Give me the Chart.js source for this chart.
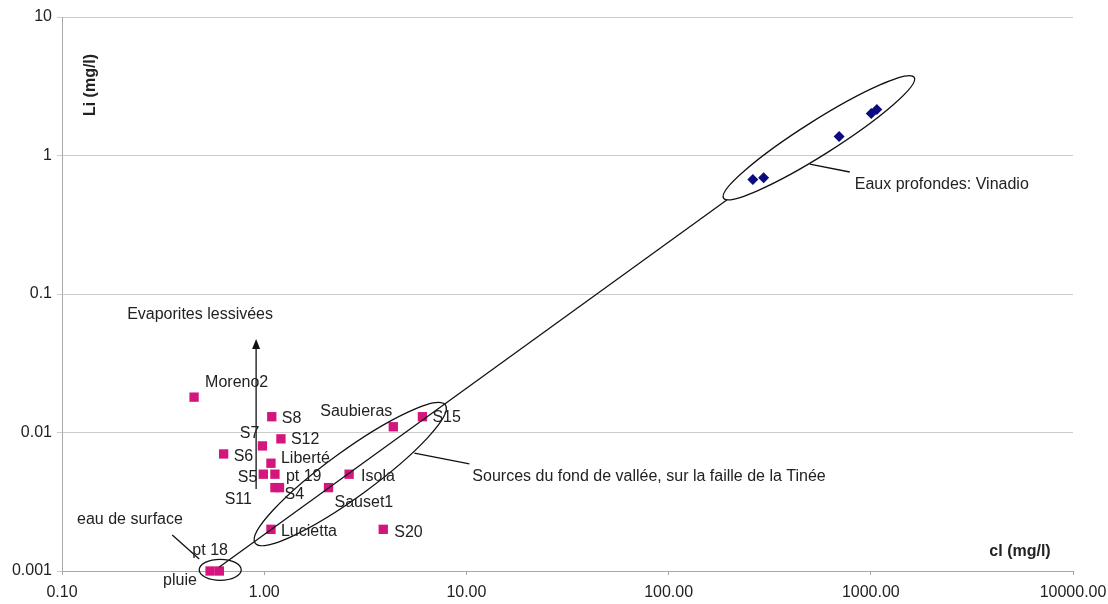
<!DOCTYPE html>
<html>
<head>
<meta charset="utf-8">
<script src="https://cdn.jsdelivr.net/npm/chart.js@4/dist/chart.umd.min.js"></script>
<style>
  html, body { margin: 0; padding: 0; background: #fff; }
  #wrap { width: 1108px; height: 604px; }
</style>
</head>
<body>
<div id="wrap"><canvas id="liChart" width="1108" height="604"></canvas></div>
<script>
// Sources (points roses)
const sampleNames = ['Moreno2', 'S8', 'S7', 'S12', 'S6', 'Liberté', 'S5', 'pt 19', 'S11', 'S4',
                     'Lucietta', 'pt 18', 'pluie', 'Sauset1', 'Isola', 'Saubieras', 'S15', 'S20'];
const clValues = [0.45, 1.09, 0.98, 1.21, 0.63, 1.08, 0.99, 1.13, 1.13, 1.19,
                  1.08, 0.60, 0.54, 2.08, 2.63, 4.35, 6.06, 3.88];
const liValues = [0.018, 0.013, 0.008, 0.009, 0.007, 0.006, 0.005, 0.005, 0.004, 0.004,
                  0.002, 0.001, 0.001, 0.004, 0.005, 0.011, 0.013, 0.002];

// Eaux profondes: Vinadio (losanges bleus)
const vinadioCl = [261, 295, 697, 1005, 1071];
const vinadioLi = [0.67, 0.69, 1.37, 2.01, 2.15];

// Graduations
const xTicks = [0.1, 1, 10, 100, 1000, 10000];
const xTickLabels = ['0.10', '1.00', '10.00', '100.00', '1000.00', '10000.00'];
const yTicks = [0.001, 0.01, 0.1, 1, 10];
const yTickLabels = ['0.001', '0.01', '0.1', '1', '10'];

// Droite de mélange (valeurs cl, Li)
const mixLineCl = [0.6, 194];
const mixLineLi = [0.00107, 0.477];

// Décalage des étiquettes (px) : [dx, dy, alignement]
const labelOffsets = [
  [11, -15, 'left'], [10, 2, 'left'], [-3, -12, 'right'], [10, 1, 'left'], [10, 3, 'left'],
  [10, -5, 'left'], [-6, 3, 'right'], [11, 2, 'left'], [-23, 12, 'right'], [5, 7, 'left'],
  [10, 2, 'left'], [-27, -20, 'left'], [-47, 10, 'left'], [6, 15, 'left'], [12, 2, 'left'],
  [-1, -15, 'right'], [10, 1, 'left'], [11, 3, 'left']
];

// Ellipses : extrémités du grand axe (cl, Li) + demi petit axe en px
const ellipses = [
  { from: [0.477, 0.00102], to: [0.770, 0.00102], half: 10.5 },
  { from: [0.902, 0.00159], to: [7.87, 0.0158], half: 23 },
  { from: [187, 0.493], to: [1640, 3.66], half: 17 }
];

// Traits de rappel
const callouts = [
  { from: [499, 0.868], to: [787, 0.760] },
  { from: [5.53, 0.00711], to: [10.35, 0.00593] },
  { from: [0.351, 0.00182], to: [0.477, 0.00122] }
];

// Flèche "Evaporites lessivées"
const arrowCl = 0.912;
const arrowLi = [0.00391, 0.0473];

// Textes
const notes = [
  { text: 'Evaporites lessivées', at: [0.210, 0.0705] },
  { text: 'eau de surface', at: [0.1187, 0.00237] },
  { text: 'Eaux profondes: Vinadio', at: [833, 0.612] },
  { text: 'Sources du fond de vallée, sur la faille de la Tinée', at: [10.7, 0.00477] }
];

const FONT = "'Liberation Sans', Arial, sans-serif";
const TEXT_COLOR = '#222';

// Plugin pour ellipses, flèche, textes et étiquettes
const annotatePlugin = {
  id: 'annotate',
  afterDatasetsDraw(chart) {
    const ctx = chart.ctx;
    const xs = chart.scales.x, ys = chart.scales.y;
    const P = (v) => [xs.getPixelForValue(v[0]), ys.getPixelForValue(v[1])];
    ctx.save();
    ctx.strokeStyle = '#111';
    ctx.lineWidth = 1.3;

    ellipses.forEach(e => {
      const a = P(e.from), b = P(e.to);
      const cx = (a[0] + b[0]) / 2, cy = (a[1] + b[1]) / 2;
      const len = Math.hypot(b[0] - a[0], b[1] - a[1]) / 2;
      const ang = Math.atan2(b[1] - a[1], b[0] - a[0]);
      ctx.beginPath();
      ctx.ellipse(cx, cy, len, e.half, ang, 0, Math.PI * 2);
      ctx.stroke();
    });

    callouts.forEach(c => {
      const a = P(c.from), b = P(c.to);
      ctx.beginPath();
      ctx.moveTo(a[0], a[1]);
      ctx.lineTo(b[0], b[1]);
      ctx.stroke();
    });

    // flèche
    const ab = P([arrowCl, arrowLi[0]]), at = P([arrowCl, arrowLi[1]]);
    ctx.beginPath();
    ctx.moveTo(ab[0], ab[1]);
    ctx.lineTo(at[0], at[1] + 8);
    ctx.stroke();
    ctx.fillStyle = '#111';
    ctx.beginPath();
    ctx.moveTo(at[0], at[1]);
    ctx.lineTo(at[0] - 4, at[1] + 10);
    ctx.lineTo(at[0] + 4, at[1] + 10);
    ctx.closePath();
    ctx.fill();

    // textes
    ctx.fillStyle = TEXT_COLOR;
    ctx.font = '16px ' + FONT;
    ctx.textBaseline = 'middle';
    ctx.textAlign = 'left';
    notes.forEach(n => {
      const p = P(n.at);
      ctx.fillText(n.text, p[0], p[1]);
    });

    // étiquettes des points
    sampleNames.forEach((name, i) => {
      const p = P([clValues[i], liValues[i]]);
      const o = labelOffsets[i];
      ctx.textAlign = o[2];
      ctx.fillText(name, p[0] + o[0], p[1] + o[1]);
    });

    // titres des axes
    ctx.font = 'bold 16px ' + FONT;
    ctx.textAlign = 'center';
    const yt = P([0.139, 3.23]);
    ctx.save();
    ctx.translate(yt[0], yt[1]);
    ctx.rotate(-Math.PI / 2);
    ctx.fillText('Li (mg/l)', 0, 0);
    ctx.restore();
    const xt = P([5470, 0.00139]);
    ctx.fillText('cl (mg/l)', xt[0], xt[1]);
    ctx.restore();
  }
};

function renderChart() {
  const ctx = document.getElementById('liChart').getContext('2d');
  new Chart(ctx, {
    type: 'scatter',
    data: {
      datasets: [
        {
          label: 'mélange',
          data: mixLineCl.map((x, i) => ({ x: x, y: mixLineLi[i] })),
          showLine: true,
          borderColor: '#111',
          borderWidth: 1.3,
          pointRadius: 0,
          clip: false
        },
        {
          label: 'Sources',
          data: clValues.map((x, i) => ({ x: x, y: liValues[i] })),
          pointStyle: 'rect',
          pointRadius: 6.6,
          backgroundColor: '#d4157d',
          borderWidth: 0,
          clip: false
        },
        {
          label: 'Vinadio',
          data: vinadioCl.map((x, i) => ({ x: x, y: vinadioLi[i] })),
          pointStyle: 'rectRot',
          pointRadius: 5.5,
          backgroundColor: '#0c0c80',
          borderWidth: 0,
          clip: false
        }
      ]
    },
    options: {
      responsive: false,
      animation: false,
      layout: { padding: { top: 17, right: 35, left: 0, bottom: 0 } },
      plugins: {
        legend: { display: false },
        tooltip: { enabled: false }
      },
      scales: {
        x: {
          type: 'logarithmic',
          min: 0.1,
          max: 10000,
          afterBuildTicks: s => { s.ticks = xTicks.map(v => ({ value: v })); },
          afterFit: s => { s.height = 33; s.paddingLeft = 0; s.paddingRight = 0; },
          grid: { drawOnChartArea: false, drawTicks: true, tickLength: 4, color: '#a8a8a8' },
          border: { color: '#a8a8a8' },
          ticks: {
            autoSkip: false,
            maxRotation: 0,
            padding: 8,
            color: TEXT_COLOR,
            font: { family: FONT, size: 16 },
            callback: (v) => xTickLabels[xTicks.indexOf(v)]
          }
        },
        y: {
          type: 'logarithmic',
          min: 0.001,
          max: 10,
          afterBuildTicks: s => { s.ticks = yTicks.map(v => ({ value: v })); },
          afterFit: s => { s.width = 62; s.paddingTop = 0; s.paddingBottom = 0; },
          grid: { color: '#cccccc', tickLength: 5 },
          border: { color: '#a8a8a8' },
          ticks: {
            autoSkip: false,
            padding: 5,
            color: TEXT_COLOR,
            font: { family: FONT, size: 16 },
            callback: (v) => yTickLabels[yTicks.indexOf(v)]
          }
        }
      }
    },
    plugins: [annotatePlugin]
  });
}

renderChart();
</script>
</body>
</html>
